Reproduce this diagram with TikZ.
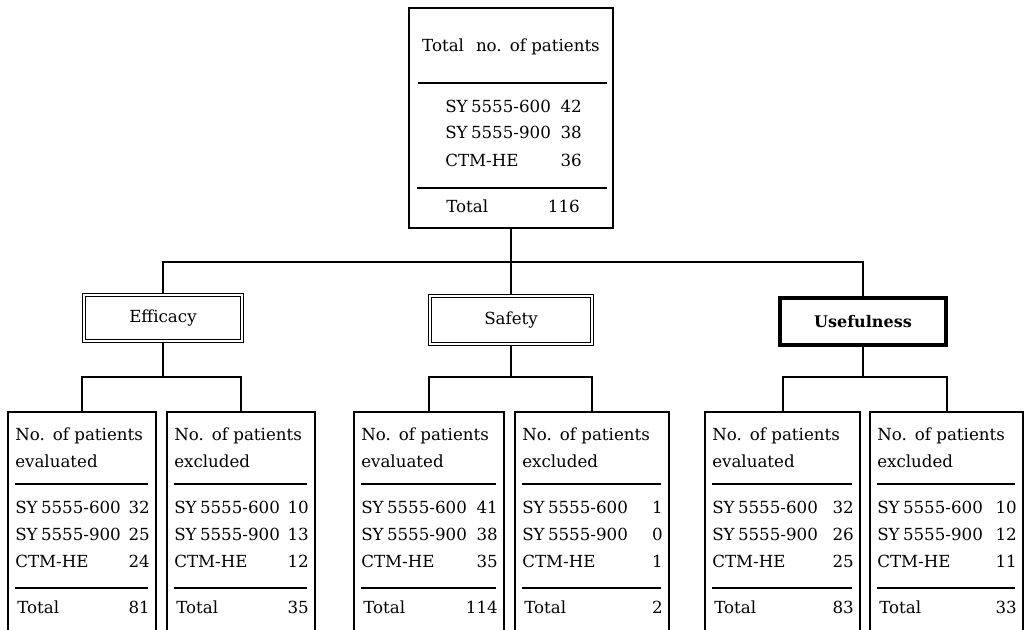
\documentclass[tikz,border=0pt]{standalone}
\usepackage{fontspec}
\setmainfont{DejaVu Serif}
\usetikzlibrary{positioning,calc}
\tikzset{
  every picture/.append style={font=\fontsize{12.5}{15}\selectfont},
  countbox/.style={rectangle,draw=black,line width=1.8pt,fill=white,inner sep=0pt},
  groupbox/.style={rectangle,draw=black,double,line width=1.1pt,double distance=1.4pt,inner sep=0pt},
  groupboxbold/.style={rectangle,draw=black,line width=3pt,inner sep=0pt},
  link/.style={draw=black,line width=1.5pt},
  hrule/.style={draw=black,line width=1.1pt},
  celltxt/.style={inner sep=0pt,anchor=base west},
  num/.style={inner sep=0pt,anchor=base east},
}
\begin{document}
\begin{tikzpicture}[x=0.75pt,y=-0.75pt]
  \useasboundingbox (0,0) rectangle (1026,630);
  \clip (0,0) rectangle (1026,630);

  % total number of patients
  \node[countbox, minimum width=153pt, minimum height=165pt] (total) at (511,118) {};
  \node[celltxt, anchor=base] (total-head) at (511,52) {Total\hspace{9pt}no.\hspace{6pt}of\hspace{4pt}patients};
  \draw[hrule] (418,83) -- (607,83);
  \node[celltxt] (total-r1) at (445,113) {SY\kern2.5pt5555-600};
  \node[num] (total-n1) at (582,113) {42};
  \node[celltxt] (total-r2) at (445,139) {SY\kern2.5pt5555-900};
  \node[num] (total-n2) at (582,139) {38};
  \node[celltxt] (total-r3) at (445,167) {CTM-HE};
  \node[num] (total-n3) at (582,167) {36};
  \draw[hrule] (417,188) -- (607,188);
  \node[celltxt] (total-tl) at (446,213) {Total};
  \node[num] (total-tn) at (580,213) {116};

  % evaluation groups
  \node[groupbox, minimum width=118.5pt, minimum height=34.5pt] (efficacy) at (163,318) {Efficacy};
  \node[groupbox, minimum width=121.5pt, minimum height=36pt] (safety) at (511,320) {Safety};
  \node[groupboxbold, minimum width=124.5pt, minimum height=35pt, font=\fontsize{12}{14}\selectfont\bfseries] (usefulness) at (863,321.5) {Usefulness};

  % evaluated / excluded counts
  \foreach \nm/\lx/\rx/\kind/\na/\nb/\nc/\ntot in {
      effin/8/156/evaluated/32/25/24/81, effex/167/315/excluded/10/13/12/35,
      safin/354/504/evaluated/41/38/35/114, safex/515/669/excluded/1/0/1/2,
      usein/705/860/evaluated/32/26/25/83, useex/870/1023/excluded/10/12/11/33}{
    \node[countbox, anchor=north, minimum width={(\rx-\lx)*0.75pt}, minimum height=190pt] (\nm) at ({(\lx+\rx)/2},411) {};
    \node[celltxt] (\nm-h1) at (\lx+7,441) {No.\hspace{6pt}of patients};
    \node[celltxt] (\nm-h2) at (\lx+7,468) {\kind};
    \draw[hrule] (\lx+7,484) -- (\rx-8,484);
    \node[celltxt] (\nm-r1) at (\lx+7,514) {SY\kern2.5pt5555-600};
    \node[num] (\nm-n1) at (\rx-6,514) {\na};
    \node[celltxt] (\nm-r2) at (\lx+7,541) {SY\kern2.5pt5555-900};
    \node[num] (\nm-n2) at (\rx-6,541) {\nb};
    \node[celltxt] (\nm-r3) at (\lx+7,568) {CTM-HE};
    \node[num] (\nm-n3) at (\rx-6,568) {\nc};
    \draw[hrule] (\lx+7,588) -- (\rx-8,588);
    \node[celltxt] (\nm-tl) at (\lx+9,614) {Total};
    \node[num] (\nm-tn) at (\rx-6,614) {\ntot};
  }

  % tree connectors
  \coordinate (split) at (511,262);
  \draw[link] (total.south) -- (split);
  \draw[link] (efficacy.north) |- (split) -| (usefulness.north);
  \draw[link] (split) -- (safety.north);

  \coordinate (effsplit) at (163,377);
  \draw[link] (efficacy.south) -- (effsplit);
  \draw[link] (effin.north) |- (effsplit) -| (effex.north);

  \coordinate (safsplit) at (511,377);
  \draw[link] (safety.south) -- (safsplit);
  \draw[link] (safin.north) |- (safsplit) -| (safex.north);

  \coordinate (usesplit) at (863,377);
  \draw[link] (usefulness.south) -- (usesplit);
  \draw[link] (usein.north) |- (usesplit) -| (useex.north);
\end{tikzpicture}
\end{document}
